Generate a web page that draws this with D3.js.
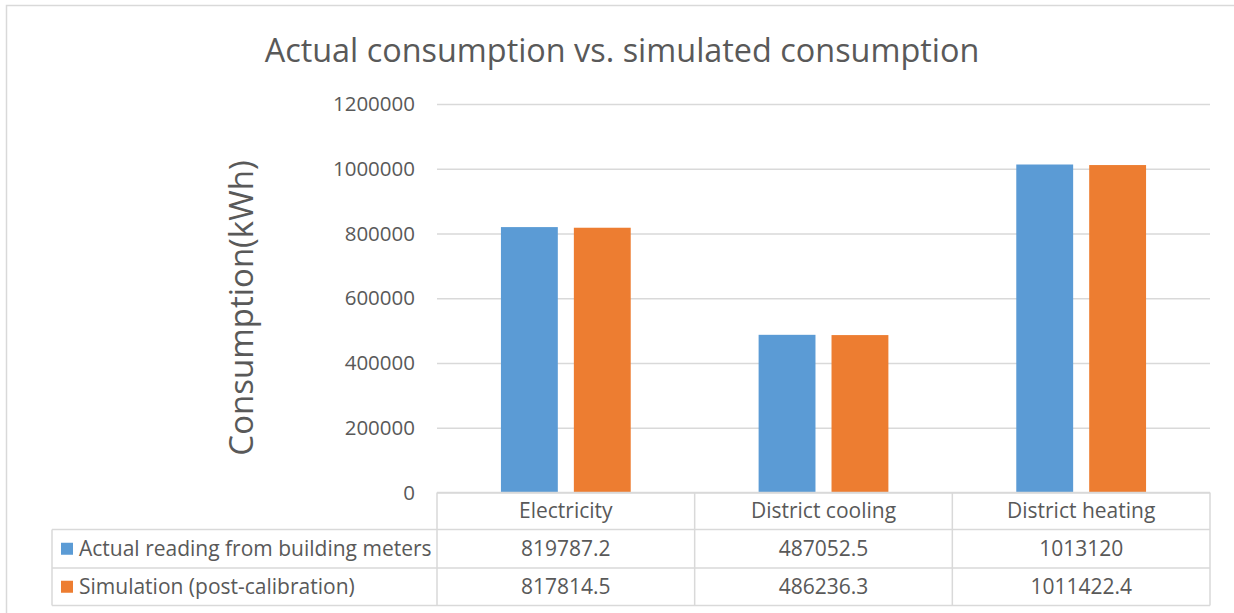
<!DOCTYPE html>
<html>
<head>
<meta charset="utf-8">
<script src="https://cdn.jsdelivr.net/npm/d3@7"></script>
<style>
  html, body { margin: 0; padding: 0; background: #fff; }
  svg { display: block; font-family: "Open Sans", sans-serif; }
</style>
</head>
<body>
<svg id="chart" width="1234" height="613"></svg>
<script>
// Annual consumption by energy carrier (kWh)
const categories = ["Electricity", "District cooling", "District heating"];
const seriesNames = ["Actual reading from building meters", "Simulation (post-calibration)"];
const actualValues = [819787.2, 487052.5, 1013120];
const simulatedValues = [817814.5, 486236.3, 1011422.4];
const actualLabels = ["819787.2", "487052.5", "1013120"];
const simulatedLabels = ["817814.5", "486236.3", "1011422.4"];
const yTicks = [0, 200000, 400000, 600000, 800000, 1000000, 1200000];
const seriesColors = ["#5B9BD5", "#ED7D31"];

const textColor = "#595959";
const lineColor = "#D9D9D9";

const svg = d3.select("#chart");

// Frame
svg.append("path")
  .attr("d", "M6.5,613 V5.5 H1234")
  .attr("fill", "none").attr("stroke", lineColor).attr("stroke-width", 1.5);

const plot = { left: 437, right: 1210, top: 104, bottom: 492.5 };
const table = { left: 52, headerTop: 492.5, row1: 529.5, row2: 568, bottom: 605.5 };

const x = d3.scaleBand().domain(categories).range([plot.left, plot.right]).paddingInner(0).paddingOuter(0);
const y = d3.scaleLinear().domain([0, 1200000]).range([plot.bottom, plot.top]);

// Gridlines and tick labels
const yAxis = d3.axisLeft(y).tickValues(yTicks).tickSize(-(plot.right - plot.left)).tickPadding(22).tickFormat(d3.format("d"));
const gy = svg.append("g").attr("transform", `translate(${plot.left},0)`).call(yAxis);
gy.select(".domain").remove();
gy.selectAll(".tick line").attr("stroke", lineColor).attr("stroke-width", 1.5);
gy.selectAll(".tick text").attr("fill", textColor).attr("font-size", 20.5)
  .attr("font-family", "'Open Sans', sans-serif");

// Bars: two series side by side within each category band
const sub = d3.scaleBand().domain([0, 1]).range([0, x.bandwidth()]).paddingInner(0.22).paddingOuter(0.877);
const series = [actualValues, simulatedValues];
series.forEach((vals, si) => {
  svg.append("g").selectAll("rect").data(vals).join("rect")
    .attr("x", (d, i) => x(categories[i]) + sub(si))
    .attr("width", sub.bandwidth())
    .attr("y", d => y(d))
    .attr("height", d => y(0) - y(d))
    .attr("fill", seriesColors[si]);
});

// Data table
const tg = svg.append("g").attr("stroke", lineColor).attr("stroke-width", 1.5).attr("fill", "none");
tg.append("line").attr("x1", plot.left).attr("x2", plot.right).attr("y1", table.headerTop).attr("y2", table.headerTop);
[table.row1, table.row2, table.bottom].forEach(yy =>
  tg.append("line").attr("x1", table.left).attr("x2", plot.right).attr("y1", yy).attr("y2", yy));
tg.append("line").attr("x1", table.left).attr("x2", table.left).attr("y1", table.row1).attr("y2", table.bottom);
categories.concat([null]).forEach((c, i) => {
  const xx = i < categories.length ? x(c) : plot.right;
  tg.append("line").attr("x1", xx).attr("x2", xx).attr("y1", table.headerTop).attr("y2", table.bottom);
});

const tableFont = 21;
function cellText(txt, cx, cy, anchor) {
  return svg.append("text").attr("x", cx).attr("y", cy).attr("dy", "0.35em")
    .attr("text-anchor", anchor || "middle").attr("fill", textColor)
    .attr("font-size", tableFont).text(txt);
}
const rowMid = [(table.headerTop + table.row1) / 2, (table.row1 + table.row2) / 2, (table.row2 + table.bottom) / 2];
categories.forEach(c => cellText(c, x(c) + x.bandwidth() / 2, rowMid[0]));
[actualLabels, simulatedLabels].forEach((labels, si) => {
  labels.forEach((l, i) => cellText(l, x(categories[i]) + x.bandwidth() / 2, rowMid[si + 1]));
  svg.append("rect").attr("x", 61).attr("y", rowMid[si + 1] - 6).attr("width", 12).attr("height", 12)
    .attr("fill", seriesColors[si]);
  cellText(seriesNames[si], 79, rowMid[si + 1], "start");
});

// Titles
svg.append("text").attr("x", 622).attr("y", 62).attr("text-anchor", "middle")
  .attr("fill", textColor).attr("font-size", 32.4).text("Actual consumption vs. simulated consumption");
svg.append("text").attr("transform", "translate(253,308) rotate(-90)").attr("text-anchor", "middle")
  .attr("fill", textColor).attr("font-size", 33).text("Consumption(kWh)");
</script>
</body>
</html>
